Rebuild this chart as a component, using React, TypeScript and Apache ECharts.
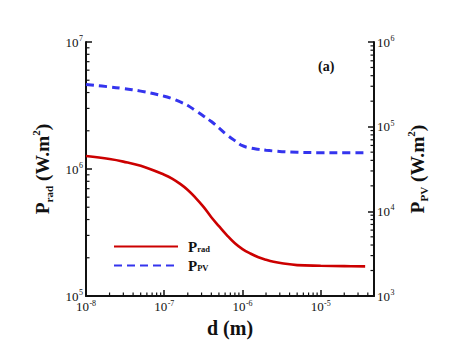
import React, { useEffect, useRef } from "react";
import * as echarts from "echarts";

// d (m)
const dValues = [1e-8, 2e-8, 3e-8, 5e-8, 1e-7, 1.26e-7, 1.58e-7, 2e-7, 2.5e-7, 3.2e-7, 4e-7, 5e-7, 6.3e-7, 8e-7, 1e-6, 1.26e-6, 1.6e-6, 2e-6, 2.5e-6, 3.2e-6, 5e-6, 1e-5, 2e-5, 3.7e-5];
// P_rad (W.m^2), left axis
const pRad = [1.265e6, 1.197e6, 1.143e6, 1.059e6, 9.02e5, 8.41e5, 7.67e5, 6.84e5, 5.96e5, 5.01e5, 4.17e5, 3.55e5, 3.02e5, 2.6e5, 2.34e5, 2.16e5, 2.02e5, 1.93e5, 1.86e5, 1.81e5, 1.75e5, 1.73e5, 1.72e5, 1.71e5];
// P_PV (W.m^2), right axis
const pPV = [3.14e5, 2.95e5, 2.82e5, 2.63e5, 2.29e5, 2.14e5, 1.97e5, 1.78e5, 1.55e5, 1.33e5, 1.15e5, 9.66e4, 8.04e4, 6.84e4, 5.96e4, 5.6e4, 5.41e4, 5.27e4, 5.16e4, 5.07e4, 4.98e4, 4.93e4, 4.93e4, 4.93e4];

const xRange = [1e-8, 4.8e-5];
const yLeftRange = [1e5, 1e7];
const yRightRange = [1e3, 1e6];

const FONT = "'Liberation Serif', 'Times New Roman', serif";
const RED = "#cc0000";
const BLUE = "#3434ee";

function minorTicks(lo: number, hi: number): number[] {
  const out: number[] = [];
  for (let e = Math.floor(Math.log10(lo)); e <= Math.ceil(Math.log10(hi)); e++) {
    for (let k = 2; k <= 9; k++) {
      const v = k * Math.pow(10, e);
      if (v > lo && v < hi) out.push(v);
    }
  }
  return out;
}

const powFormatter = (v: number) => {
  const e = Math.log10(v);
  const r = Math.round(e);
  if (Math.abs(e - r) > 1e-6) return "";
  return `{b|10}{s|${r}}`;
};

const labelRich = {
  b: { fontFamily: FONT, fontSize: 13, color: "#111", lineHeight: 15 },
  s: { fontFamily: FONT, fontSize: 8, color: "#111", verticalAlign: "top", lineHeight: 15, padding: [0, 0, 0, 0.5] },
};

const titleRich = {
  m: { fontFamily: FONT, fontSize: 19.5, fontWeight: "bold", color: "#111", lineHeight: 24 },
  s: { fontFamily: FONT, fontSize: 11, fontWeight: "bold", color: "#111", verticalAlign: "bottom", lineHeight: 24 },
  t: { fontFamily: FONT, fontSize: 11, fontWeight: "bold", color: "#111", verticalAlign: "top", lineHeight: 24 },
};

export default function App() {
  const ref = useRef<HTMLDivElement>(null);
  useEffect(() => {
    if (!ref.current) return;
    const chart = echarts.init(ref.current, undefined, { renderer: "svg" });
    const tickLen = 3.5;
    const option: any = {
      animation: false,
      backgroundColor: "#fff",
      grid: { left: 86, right: 83, top: 42, bottom: 47, containLabel: false },
      legend: {
        data: ["Prad", "PPV"],
        orient: "vertical",
        left: 113,
        top: 239,
        itemWidth: 64,
        itemHeight: 12,
        itemGap: 4,
        padding: 0,
        itemStyle: { opacity: 0 },
        formatter: (name: string) => (name === "Prad" ? "{m|P}{s|rad}" : "{m|P}{s|PV}"),
        textStyle: {
          rich: {
            m: { fontFamily: FONT, fontSize: 15, fontWeight: "bold", color: "#111", lineHeight: 14, padding: [0, 0, 0, 5] },
            s: { fontFamily: FONT, fontSize: 8.5, fontWeight: "bold", color: "#111", verticalAlign: "bottom", lineHeight: 14 },
          },
        },
      },
      graphic: [
        {
          type: "text",
          left: 318,
          top: 59,
          style: { text: "(a)", fontFamily: FONT, fontSize: 14, fontWeight: "bold", fill: "#111" },
        },
      ],
      xAxis: {
        type: "log",
        logBase: 10,
        min: xRange[0],
        max: xRange[1],
        name: "d (m)",
        nameLocation: "middle",
        nameGap: 19,
        nameTextStyle: { fontFamily: FONT, fontSize: 20, fontWeight: "bold", color: "#111", verticalAlign: "top" },
        axisLine: { lineStyle: { color: "#111", width: 2 } },
        axisTick: { inside: true, length: 6, lineStyle: { color: "#111", width: 1.5 } },
        axisLabel: { formatter: powFormatter, rich: labelRich, margin: 3, interval: 0, hideOverlap: false },
        splitLine: { show: false },
      },
      yAxis: [
        {
          type: "log",
          logBase: 10,
          min: yLeftRange[0],
          max: yLeftRange[1],
          position: "left",
          name: "{m|P}{s|rad}{m| (W.m}{t|2}{m|)}",
          nameLocation: "middle",
          nameRotate: 90,
          nameGap: 27,
          nameTextStyle: { rich: titleRich },
          axisLine: { show: true, lineStyle: { color: "#111", width: 2 } },
          axisTick: { inside: true, length: 6, lineStyle: { color: "#111", width: 1.5 } },
          axisLabel: { formatter: powFormatter, rich: labelRich, margin: 3, interval: 0, hideOverlap: false },
          splitLine: { show: false },
        },
        {
          type: "log",
          logBase: 10,
          min: yRightRange[0],
          max: yRightRange[1],
          position: "right",
          name: "{m|P}{s|PV}{m| (W.m}{t|2}{m|)}",
          nameLocation: "middle",
          nameRotate: 90,
          nameGap: 24,
          nameTextStyle: { rich: titleRich },
          axisLine: { show: true, lineStyle: { color: "#111", width: 2 } },
          axisTick: { inside: true, length: 6, lineStyle: { color: "#111", width: 1.5 } },
          axisLabel: { formatter: powFormatter, rich: labelRich, margin: 3, interval: 0, hideOverlap: false },
          splitLine: { show: false },
        },
      ],
      series: [
        {
          name: "Prad",
          type: "line",
          yAxisIndex: 0,
          smooth: 0.4,
          symbol: "none",
          data: dValues.map((d, i) => [d, pRad[i]]),
          lineStyle: { color: RED, width: 2.6 },
          itemStyle: { color: RED },
        },
        {
          name: "PPV",
          type: "line",
          yAxisIndex: 1,
          smooth: 0.4,
          symbol: "none",
          data: dValues.map((d, i) => [d, pPV[i]]),
          lineStyle: { color: BLUE, width: 3, type: [8, 5] },
          itemStyle: { color: BLUE },
        },
        {
          type: "custom",
          silent: true,
          yAxisIndex: 0,
          clip: false,
          data: minorTicks(xRange[0], xRange[1]).map((v) => [v, yLeftRange[0]]),
          renderItem: (params: any, api: any) => {
            const p = api.coord([api.value(0), yLeftRange[0]]);
            return { type: "line", shape: { x1: p[0], y1: p[1], x2: p[0], y2: p[1] - tickLen }, style: { stroke: "#111", lineWidth: 1.2 } };
          },
        },
        {
          type: "custom",
          silent: true,
          yAxisIndex: 0,
          clip: false,
          data: minorTicks(yLeftRange[0], yLeftRange[1]).map((v) => [xRange[0], v]),
          renderItem: (params: any, api: any) => {
            const p = api.coord([xRange[0], api.value(1)]);
            return { type: "line", shape: { x1: p[0], y1: p[1], x2: p[0] + tickLen, y2: p[1] }, style: { stroke: "#111", lineWidth: 1.2 } };
          },
        },
        {
          type: "custom",
          silent: true,
          yAxisIndex: 1,
          clip: false,
          data: minorTicks(yRightRange[0], yRightRange[1]).map((v) => [xRange[1], v]),
          renderItem: (params: any, api: any) => {
            const p = api.coord([xRange[1], api.value(1)]);
            return { type: "line", shape: { x1: p[0], y1: p[1], x2: p[0] - tickLen, y2: p[1] }, style: { stroke: "#111", lineWidth: 1.2 } };
          },
        },
      ],
    };
    chart.setOption(option);
    return () => chart.dispose();
  }, []);
  return <div ref={ref} style={{ position: "absolute", left: 0, top: 0, width: 457, height: 343 }} />;
}
